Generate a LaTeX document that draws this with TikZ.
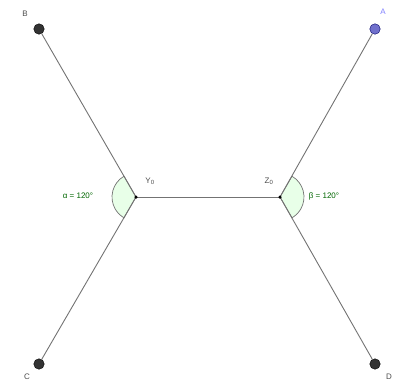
\documentclass[tikz,border=0pt]{standalone}
\usepackage{fontspec}
\setmainfont{Liberation Sans}
\begin{document}
\begin{tikzpicture}[x=1pt,y=-1pt,
  seg/.style={draw=black!55, line width=0.9pt},
  bigpt/.style={circle, fill=black!80, draw=black, inner sep=0pt, minimum size=10.5pt},
  bluept/.style={circle, fill=blue!45!white!80!black, draw=blue!40!black, inner sep=0pt, minimum size=10.5pt},
  smallpt/.style={circle, fill=black, inner sep=0pt, minimum size=3.5pt},
  lbl/.style={font=\fontsize{8}{9}\selectfont, text=black!70, inner sep=0pt},
  anglbl/.style={font=\fontsize{8}{9}\selectfont, text=green!40!black, inner sep=0pt},
  sector/.style={fill=green!9, draw=black!55, line width=0.7pt}
]
\useasboundingbox (0,0) rectangle (394,383);
\coordinate (Y) at (136,197);
\coordinate (Z) at (280,197);
% angle sectors
\filldraw[sector] (Y) -- ++(240:24) arc[start angle=240, end angle=120, radius=24] -- cycle;
\filldraw[sector] (Z) -- ++(-60:24) arc[start angle=-60, end angle=60, radius=24] -- cycle;
\node[bigpt] (B) at (39,29) {};
\node[bluept] (A) at (375,29) {};
\node[bigpt] (C) at (39,364) {};
\node[bigpt] (D) at (375,364) {};
\draw[seg] (B) -- (Y);
\draw[seg] (C) -- (Y);
\draw[seg] (Y) -- (Z);
\draw[seg] (A) -- (Z);
\draw[seg] (D) -- (Z);
\node[smallpt] (Yd) at (Y) {};
\node[smallpt] (Zd) at (Z) {};
\node[lbl] (lB) at (25,14) {B};
\node[lbl, text=blue!50!white] (lA) at (383,12) {A};
\node[lbl] (lC) at (27,377) {C};
\node[lbl] (lD) at (389,377) {D};
\node[lbl] (lY) at (150,181) {Y\textsubscript{0}};
\node[lbl] (lZ) at (269,181) {Z\textsubscript{0}};
\node[anglbl] (la) at (78,196) {α = 120°};
\node[anglbl] (lb) at (324,196) {β = 120°};
\end{tikzpicture}
\end{document}
